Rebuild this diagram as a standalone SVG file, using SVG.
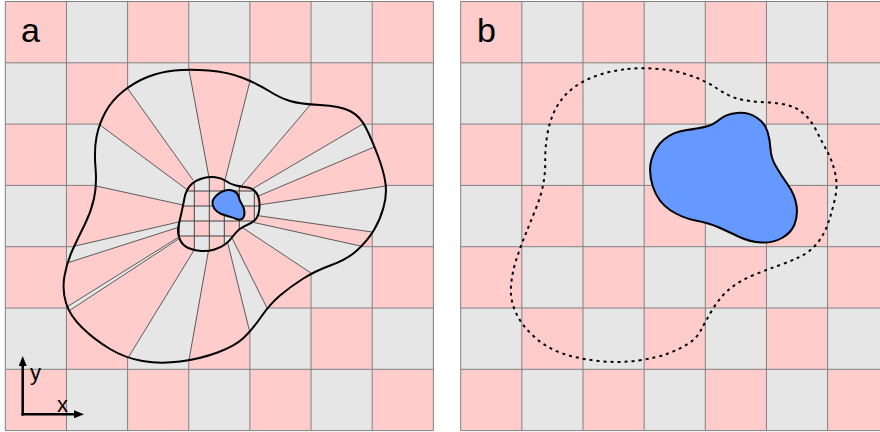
<svg xmlns="http://www.w3.org/2000/svg" width="880" height="432" viewBox="0 0 880 432">
<style>
.grid{fill:none;stroke:#808080;stroke-width:1}
.pink{fill:#FFCCCC}
.gray{fill:#E6E6E6}
.rad{fill:none;stroke:#5a5a5a;stroke-width:1}
.fine{fill:none;stroke:#404040;stroke-width:1}
.bnd{fill:none;stroke:#000;stroke-width:2}
.blue{fill:#6699FF;stroke:#000;stroke-width:2}
.lbl{font-family:"Liberation Sans",Arial,sans-serif;fill:#000}
.axis{fill:none;stroke:#000;stroke-width:2.5}
</style>
<defs>
<pattern id="chk" patternUnits="userSpaceOnUse" x="5.3" y="1.5" width="122.3" height="122.6">
<rect width="122.3" height="122.6" class="gray"/>
<rect width="61.15" height="61.3" class="pink"/>
<rect x="61.15" y="61.3" width="61.15" height="61.3" class="pink"/>
</pattern>
<pattern id="finechk" patternUnits="userSpaceOnUse" x="194.3" y="191" width="30" height="30">
<rect width="30" height="30" class="gray"/>
<rect width="15" height="15" class="pink"/>
<rect x="15" y="15" width="15" height="15" class="pink"/>
</pattern>
<path id="outerA" d="M174.5 70.5 Q189 69 208.5 70.5 Q228 72 243 78 Q258 84 269 91 Q280 98 290 101 Q300 104 320 105 Q340 106 350 111 Q360 116 366 128 Q372 140 378 156 Q384 172 385.5 183.5 Q387 195 383.5 207.5 Q380 220 374 230 Q368 240 358 249.5 Q348 259 331.5 265 Q315 271 302.5 279 Q290 287 280 295.5 Q270 304 261 317 Q252 330 243.5 338 Q235 346 217.5 352.5 Q200 359 180 361.5 Q160 364 142.5 361 Q125 358 110 349 Q95 340 82.5 328 Q70 316 66 303 Q62 290 64.5 276 Q67 262 72.5 250 Q78 238 84.5 225 Q91 212 94 198.5 Q97 185 95.5 167.5 Q94 150 96.5 137 Q99 124 105.5 112 Q112 100 123.5 91 Q135 82 147.5 77 Q160 72 174.5 70.5 Z"/>
<path id="innerA" d="M202 178.5 Q209 176.5 215.5 177.25 Q222 178 226 181 Q230 184 235 185.25 Q240 186.5 246 187.25 Q252 188 255.25 191.5 Q258.5 195 259.25 201 Q260 207 258.75 212.5 Q257.5 218 254.25 220.75 Q251 223.5 247 225 Q243 226.5 239.5 229.25 Q236 232 232.75 236.5 Q229.5 241 225.25 244.25 Q221 247.5 214.5 249.5 Q208 251.5 201 251 Q194 250.5 188.25 248 Q182.5 245.5 179.75 239.25 Q177 233 178.5 226 Q180 219 181.5 212.5 Q183 206 184.5 198 Q186 190 190.5 185.25 Q195 180.5 202 178.5 Z"/>
<clipPath id="clipOuter"><use href="#outerA"/></clipPath>
<clipPath id="clipInner"><use href="#innerA"/></clipPath>
<marker id="ah" viewBox="0 0 10 8" refX="6" refY="4" markerWidth="10" markerHeight="8" markerUnits="userSpaceOnUse" orient="auto">
<path d="M0 0 L10 4 L0 8 Z" fill="#000"/>
</marker>
</defs>

<g id="panel-a">
<rect x="5.3" y="1.5" width="428.05" height="429.1" fill="url(#chk)"/>
<path class="grid" d="M5.3 1.5V430.6M66.45 1.5V430.6M127.6 1.5V430.6M188.75 1.5V430.6M249.9 1.5V430.6M311.05 1.5V430.6M372.2 1.5V430.6M433.35 1.5V430.6M5.3 1.5H433.35M5.3 62.8H433.35M5.3 124.1H433.35M5.3 185.4H433.35M5.3 246.7H433.35M5.3 308H433.35M5.3 369.3H433.35M5.3 430.6H433.35"/>

<g id="polar-region" clip-path="url(#clipOuter)">
<use href="#outerA" class="gray"/>
<g class="pink">
<polygon points="220,213 209,177.5 181,27 260,41.4 225,180"/>
<polygon points="220,213 240,187.5 339.4,70.6 405.6,98.9 253,188.5"/>
<polygon points="220,213 256,197 419.8,127.7 437,178.4 258.5,205"/>
<polygon points="220,213 257,215.5 418,238.6 409.4,256.8 254,222.5"/>
<polygon points="220,213 243,228 338.2,291 281.4,336.8 231,236"/>
<polygon points="220,213 227,240 259.2,370.2 181.2,403.8 208.5,250.5"/>
<polygon points="220,213 193.5,251 101.8,400.8 23.8,340.5 178.5,239"/>
<polygon points="220,213 178,237.5 21.2,335.5 22,277.4 179.5,227"/>
<polygon points="220,213 178.5,222 30.8,256.3 61.2,178.4 183,205"/>
<polygon points="220,213 187.5,190 65,99 102,52.6 193,180"/>
</g>
<path class="rad" d="M209 177.5L181 27M225 180L260 41.4M240 187.5L339.4 70.6M253 188.5L405.6 98.9M256 197L419.8 127.7M258.5 205L437 178.4M257 215.5L418 238.6M254 222.5L409.4 256.8M243 228L338.2 291M231 236L281.4 336.8M227 240L259.2 370.2M208.5 250.5L181.2 403.8M193.5 251L101.8 400.8M178.5 239L23.8 340.5M178 237.5L21.2 335.5M179.5 227L22 277.4M178.5 222L30.8 256.3M183 205L61.2 178.4M187.5 190L65 99M193 180L102 52.6"/>
</g>
<use href="#outerA" class="bnd"/>

<g id="fine-region">
<use href="#innerA" fill="url(#finechk)"/>
<path class="fine" clip-path="url(#clipInner)" d="M179.3 170V256M194.3 170V256M209.3 170V256M224.3 170V256M239.3 170V256M254.3 170V256M172 176H264M172 191H264M172 206H264M172 221H264M172 236H264M172 251H264"/>
<use href="#innerA" class="bnd"/>
</g>

<path id="blob-a" class="blue" d="M217.25 194.75 Q221.5 191 226 190.25 Q230.5 189.5 234.25 191.25 Q238 193 238.75 197 Q239.5 201 242 204.5 Q244.5 208 244.5 212.5 Q244.5 217 242.25 218.75 Q240 220.5 236.5 219 Q233 217.5 229 216.5 Q225 215.5 220.75 213.75 Q216.5 212 214.25 208.5 Q212 205 212.5 201.75 Q213 198.5 217.25 194.75 Z"/>

<text class="lbl" x="21" y="42" font-size="34">a</text>

<g id="axes">
<path class="axis" d="M22.7 415.5V360" marker-end="url(#ah)"/>
<path class="axis" d="M21.5 414.3H80" marker-end="url(#ah)"/>
<text class="lbl" x="30" y="380" font-size="22">y</text>
<text class="lbl" x="57" y="412" font-size="22">x</text>
</g>
</g>

<g id="panel-b">
<g transform="translate(455.4,0)">
<rect x="5.3" y="1.5" width="440" height="429.1" fill="url(#chk)"/>
<path class="grid" d="M5.3 1.5V430.6M66.45 1.5V430.6M127.6 1.5V430.6M188.75 1.5V430.6M249.9 1.5V430.6M311.05 1.5V430.6M372.2 1.5V430.6M5.3 1.5H440M5.3 62.8H440M5.3 124.1H440M5.3 185.4H440M5.3 246.7H440M5.3 308H440M5.3 369.3H440M5.3 430.6H440"/>
</g>
<path id="dashed-b" fill="none" stroke="#000" stroke-width="2" stroke-dasharray="3 4" d="M627.5 69 Q643 67.5 659.5 69 Q676 70.5 691 75.75 Q706 81 717 88.5 Q728 96 738 98.75 Q748 101.5 769 102.5 Q790 103.5 800 110.75 Q810 118 816 130 Q822 142 827 151 Q832 160 835 172.5 Q838 185 835 198.5 Q832 212 828 223.5 Q824 235 817 243.5 Q810 252 800 256.75 Q790 261.5 778 265.75 Q766 270 753 275.25 Q740 280.5 730 288.75 Q720 297 712.5 309.5 Q705 322 701 330 Q697 338 688.5 343.5 Q680 349 668 353.5 Q656 358 638 360.5 Q620 363 601 361.25 Q582 359.5 565 354.25 Q548 349 535 337.5 Q522 326 516 313 Q510 300 511 286.5 Q512 273 516 260.5 Q520 248 525 235.5 Q530 223 535.5 209.5 Q541 196 543.25 184 Q545.5 172 545.25 160 Q545 148 547.5 133.5 Q550 119 556.5 107.25 Q563 95.5 573.5 87.75 Q584 80 598 75.25 Q612 70.5 627.5 69 Z"/>
<path id="blob-b" class="blue" d="M719.5 119.5 Q726 114 737 113 Q748 112 756.5 117.5 Q765 123 767.5 131.5 Q770 140 770.5 149 Q771 158 776 166.5 Q781 175 788 185 Q795 195 796.5 205.5 Q798 216 794.5 224.5 Q791 233 782 238 Q773 243 761.5 242.5 Q750 242 739.5 237 Q729 232 719 227.5 Q709 223 695.5 220.5 Q682 218 670 210 Q658 202 653 187 Q648 172 651.5 159.5 Q655 147 664 139.5 Q673 132 685.5 130.25 Q698 128.5 705.5 126.75 Q713 125 719.5 119.5 Z"/>
<text class="lbl" x="477" y="42" font-size="34">b</text>
</g>
</svg>
